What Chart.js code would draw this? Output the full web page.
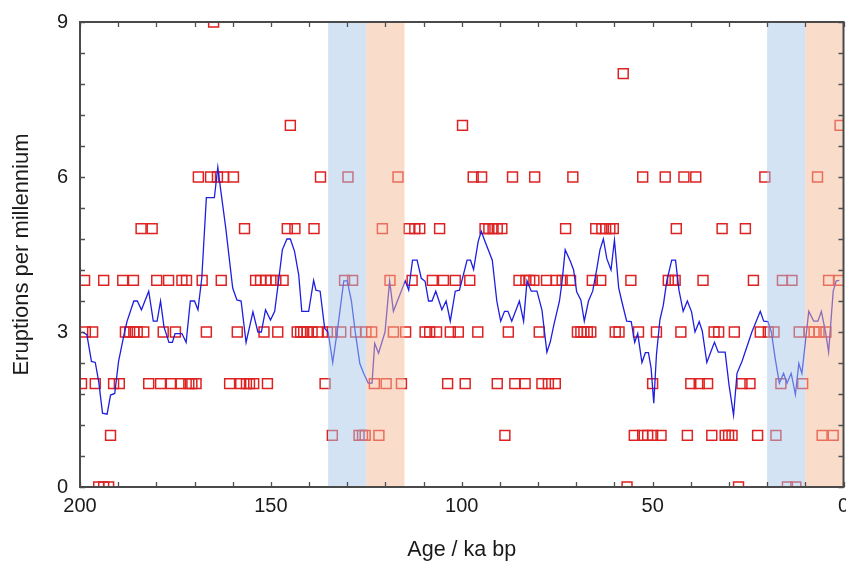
<!DOCTYPE html>
<html>
<head>
<meta charset="utf-8">
<script src="https://cdn.jsdelivr.net/npm/chart.js@4/dist/chart.umd.min.js"></script>
<style>
  html, body { margin: 0; padding: 0; background: #fff; }
  #wrap { width: 846px; height: 565px; position: relative; }
</style>
</head>
<body>
<div id="wrap"><canvas id="c" width="846" height="565"></canvas></div>
<script>
// ---- Data (age in ka bp) ----
const agesCount9 = [165.0];
const agesCount8 = [57.7];
const agesCount7 = [144.9, 99.8, 0.9];
const agesCount6 = [169.0, 165.8, 164.0, 162.4, 159.8, 137.0, 129.8, 116.7, 97.0, 94.8, 86.7, 80.9, 70.9, 52.6, 46.7, 41.8, 38.7, 20.6, 6.8];
const agesCount5 = [184.0, 181.1, 156.9, 145.7, 143.7, 138.7, 120.8, 113.8, 112.3, 111.0, 105.8, 93.9, 92.9, 91.8, 90.7, 89.5, 72.8, 64.9, 63.3, 62.3, 61.2, 60.3, 43.8, 31.8, 25.7];
const agesCount4 = [198.8, 193.8, 188.8, 186.0, 179.9, 176.8, 173.3, 172.1, 168.0, 163.0, 154.0, 152.7, 151.3, 150.0, 148.7, 146.8, 130.7, 128.6, 118.8, 113.0, 107.7, 104.8, 101.7, 97.9, 85.0, 83.2, 82.2, 81.1, 77.8, 75.3, 73.7, 71.5, 65.8, 63.6, 55.7, 45.9, 44.8, 44.1, 36.8, 23.6, 16.0, 13.5, 3.9, 1.2];
const agesCount3 = [198.6, 196.7, 188.1, 187.0, 185.9, 185.0, 183.3, 178.2, 175.0, 166.9, 158.8, 151.8, 148.2, 143.1, 142.2, 141.4, 140.5, 139.2, 137.6, 135.2, 133.9, 131.7, 127.8, 125.1, 123.6, 117.9, 114.7, 109.6, 108.4, 106.6, 103.0, 100.9, 95.8, 87.8, 79.7, 69.7, 68.8, 68.0, 67.1, 66.2, 59.8, 58.8, 53.7, 49.0, 42.6, 33.9, 32.7, 28.6, 21.8, 19.7, 18.2, 11.6, 9.0, 7.7, 6.4, 4.6];
const agesCount2 = [199.6, 196.0, 191.2, 189.7, 182.0, 178.9, 176.1, 173.7, 171.5, 170.7, 169.6, 160.8, 157.9, 156.4, 155.6, 154.5, 150.9, 135.8, 122.9, 119.8, 115.8, 103.7, 99.1, 90.7, 86.1, 83.4, 79.0, 77.3, 75.5, 50.0, 40.0, 37.8, 35.6, 26.6, 24.5, 16.4, 10.7];
const agesCount1 = [192.0, 133.9, 126.9, 126.0, 125.3, 121.7, 88.7, 54.8, 52.6, 51.3, 50.0, 47.8, 40.9, 34.5, 31.0, 30.1, 29.2, 22.5, 17.7, 5.6, 2.7];
const agesCount0 = [195.1, 193.8, 192.5, 56.7, 27.5, 14.7, 12.5];

// running mean of eruption rate
const meanAges = [199.4, 198.2, 197.0, 196.0, 195.1, 194.1, 192.9, 192.0, 190.9, 189.9, 188.5, 187.7, 185.9, 185.0, 183.9, 182.0, 180.8, 179.8, 178.9, 178.0, 176.7, 175.8, 175.1, 173.3, 172.2, 171.1, 170.0, 169.1, 168.1, 166.9, 164.8, 163.9, 163.2, 161.8, 160.0, 158.9, 157.8, 156.5, 154.7, 153.4, 152.5,
  151.4, 150.1, 149.0, 147.9, 147.0, 145.8, 144.9, 143.8, 142.7, 141.9, 140.1, 138.8, 138.2, 137.1, 135.9, 135.0, 133.8, 132.4, 130.9, 130.0, 128.9, 127.9, 126.7, 125.7, 124.5, 123.5, 122.8, 121.8, 120.1, 118.9, 117.9, 114.8, 113.9, 112.9, 111.7, 110.6, 109.6, 108.7, 107.8, 106.8, 105.2, 104.1, 103.0, 101.7,
  100.6, 98.6, 97.7, 96.9, 95.7, 94.9, 93.9, 92.0, 90.8, 89.8, 88.8, 87.9, 86.9, 84.9, 83.8, 82.9, 81.8, 80.3, 79.0, 77.7, 76.8, 75.9, 74.4, 73.7, 72.9, 71.5, 70.7, 69.9, 68.8, 67.9, 66.8, 65.7, 64.6, 63.8, 62.9, 62.0, 60.9, 60.0, 59.6, 58.9, 58.1, 56.8, 55.6, 54.7, 53.9, 52.8, 51.9, 51.1, 50.4, 49.7,
  49.0, 48.1, 47.2, 46.3, 45.0, 44.0, 43.1, 42.0, 40.9, 39.8, 38.9, 37.8, 37.0, 35.8, 34.8, 33.8, 32.8, 31.0, 30.0, 28.8, 27.9, 26.6, 24.0, 21.8, 20.9, 19.8, 18.9, 17.9, 16.8, 15.7, 14.8, 13.7, 12.6, 11.7, 10.9, 9.1, 7.8, 6.7, 5.8, 4.7, 3.9, 2.7, 1.9, 1.1];
const meanRates = [3.0, 2.95, 2.43, 2.41, 2.04, 1.43, 1.41, 1.78, 1.81, 2.43, 2.94, 3.2, 3.6, 3.6, 3.43, 3.79, 3.21, 3.21, 3.6, 3.1, 2.8, 2.8, 2.97, 2.97, 2.8, 3.6, 3.6, 3.43, 4.04, 5.6, 5.6, 6.19, 5.78, 5.0, 3.85, 3.62, 3.6, 2.8, 3.39, 3.0, 3.0,
  3.43, 3.23, 3.4, 4.04, 4.59, 4.8, 4.8, 4.56, 4.1, 3.4, 3.4, 4.0, 3.81, 3.79, 3.07, 3.0, 2.41, 3.13, 3.99, 3.99, 3.6, 3.0, 2.39, 2.2, 2.01, 2.01, 2.78, 2.59, 3.0, 3.99, 3.4, 3.99, 3.81, 4.39, 4.39, 4.04, 3.98, 3.6, 3.6, 3.79, 3.43, 3.6, 3.21, 3.79,
  3.81, 4.39, 4.39, 4.21, 4.75, 4.95, 4.75, 4.39, 3.59, 3.21, 3.4, 3.4, 3.21, 3.6, 3.21, 3.99, 3.79, 3.79, 3.43, 2.61, 2.81, 3.13, 3.6, 3.99, 4.59, 4.36, 4.2, 3.78, 3.62, 3.21, 3.6, 3.79, 4.23, 4.59, 4.8, 4.42, 4.2, 4.78, 4.45, 3.86, 3.6, 3.21, 3.2, 2.8, 2.97, 2.41, 2.6, 2.6, 2.3, 1.62,
  2.56, 3.23, 3.52, 3.98, 4.39, 4.39, 3.81, 3.4, 3.6, 3.39, 3.0, 3.2, 3.02, 2.41, 2.61, 2.8, 2.61, 2.61, 1.98, 1.39, 2.2, 2.43, 3.0, 3.4, 3.21, 3.2, 3.0, 2.49, 2.01, 2.2, 2.01, 2.2, 1.79, 2.39, 2.2, 3.4, 3.21, 3.21, 3.4, 3.0, 2.61, 3.79, 3.99, 4.0];

// climate intervals (ka bp)
const coolBands = [[135, 125], [20, 10]];
const warmBands = [[125, 115], [10, 0]];

const xTicks = [200, 150, 100, 50, 0];
const yTicks = [0, 3, 6, 9];

// ---- build datasets ----
const byCount = [agesCount0, agesCount1, agesCount2, agesCount3, agesCount4, agesCount5, agesCount6, agesCount7, agesCount8, agesCount9];
const scatterPts = [];
byCount.forEach((ages, n) => ages.forEach(a => scatterPts.push({ x: a, y: n })));
const linePts = meanAges.map((a, i) => ({ x: a, y: meanRates[i] }));

const FONT = "'Liberation Sans', Arial, sans-serif";
const PLOT_BOX = { left: 80, top: 22, rightGap: 2.5, axisHeight: 78 };

// pin the plot box so that the frame matches the reference
const geomPlugin = {
  id: 'geom',
  afterLayout(chart) {
    const a = chart.chartArea, { x, y } = chart.scales;
    a.left = PLOT_BOX.left; a.top = PLOT_BOX.top;
    a.right = chart.width - PLOT_BOX.rightGap; a.bottom = chart.height - PLOT_BOX.axisHeight;
    a.width = a.right - a.left; a.height = a.bottom - a.top;
    x.left = a.left; x.right = a.right; x.width = a.width;
    x.top = a.bottom; x.bottom = chart.height; x.height = PLOT_BOX.axisHeight;
    y.top = a.top; y.bottom = a.bottom; y.height = a.height;
    y.left = 0; y.right = a.left; y.width = a.left;
    x.configure(); y.configure();
  }
};

const bandPlugin = {
  id: 'bands',
  afterDatasetsDraw(chart) {
    const { ctx, chartArea: a, scales: { x } } = chart;
    ctx.save();
    const fill = (bands, color) => {
      ctx.fillStyle = color;
      bands.forEach(([from, to]) => {
        const p1 = x.getPixelForValue(from), p2 = x.getPixelForValue(to);
        ctx.fillRect(Math.min(p1, p2), a.top, Math.abs(p2 - p1), a.bottom - a.top);
      });
    };
    fill(coolBands, 'rgba(168,200,232,0.5)');
    fill(warmBands, 'rgba(245,186,152,0.5)');
    ctx.restore();
  }
};

const framePlugin = {
  id: 'frame',
  afterDraw(chart) {
    const { ctx, chartArea: a, scales: { x, y } } = chart;
    ctx.save();
    ctx.strokeStyle = '#505050';
    ctx.lineWidth = 1.3;
    ctx.beginPath();
    for (let v = 0; v <= 200; v += 10) {
      const px = Math.round(x.getPixelForValue(v)) + 0.5;
      ctx.moveTo(px, a.bottom); ctx.lineTo(px, a.bottom - 5);
      ctx.moveTo(px, a.top); ctx.lineTo(px, a.top + 5);
    }
    for (let i = 0; i <= 15; i++) {
      const py = Math.round(y.getPixelForValue(i * 0.6)) + 0.5;
      ctx.moveTo(a.left, py); ctx.lineTo(a.left + 5, py);
      ctx.moveTo(a.right, py); ctx.lineTo(a.right - 5, py);
    }
    ctx.stroke();
    ctx.lineWidth = 2;
    ctx.strokeStyle = '#4a4a4a';
    ctx.strokeRect(a.left, a.top, a.right - a.left, a.bottom - a.top);
    // x tick labels, placed through the x scale
    ctx.fillStyle = '#1a1a1a';
    ctx.font = '20px ' + FONT;
    ctx.textAlign = 'center';
    ctx.textBaseline = 'top';
    xTicks.forEach(v => ctx.fillText(String(v), x.getPixelForValue(v), a.bottom + 9));
    ctx.restore();
  }
};

new Chart(document.getElementById('c'), {
  data: {
    datasets: [
      {
        type: 'scatter',
        label: 'Eruptions',
        data: scatterPts,
        pointStyle: 'rect',
        pointRadius: 7,
        pointBorderWidth: 1.5,
        pointBackgroundColor: 'rgba(0,0,0,0)',
        pointBorderColor: 'rgb(222,34,34)',
        clip: 0,
        order: 2
      },
      {
        type: 'line',
        label: 'Running mean',
        data: linePts,
        borderColor: 'rgb(30,30,225)',
        borderWidth: 1.3,
        pointRadius: 0,
        tension: 0,
        fill: false,
        clip: 0,
        order: 1
      }
    ]
  },
  options: {
    responsive: false,
    animation: false,
    devicePixelRatio: 1,
    layout: { padding: { top: 22, right: 2.5, left: 0, bottom: 0 } },
    plugins: { legend: { display: false }, tooltip: { enabled: false } },
    scales: {
      x: {
        type: 'linear',
        reverse: true,
        min: 0, max: 200,
        afterFit(s) { s.height = 78; },
        grid: { display: false, drawTicks: false },
        border: { display: false },
        ticks: { display: false },
        title: { display: true, text: 'Age / ka bp', color: '#1a1a1a', font: { family: FONT, size: 21.5 }, padding: { top: 0, bottom: 2 } }
      },
      y: {
        min: 0, max: 9,
        afterFit(s) { s.width = 80; },
        afterBuildTicks(s) { s.ticks = yTicks.map(v => ({ value: v })); },
        grid: { display: false, drawTicks: false },
        border: { display: false },
        ticks: { padding: 12, color: '#1a1a1a', font: { family: FONT, size: 20 } },
        title: { display: true, text: 'Eruptions per millennium', color: '#1a1a1a', font: { family: FONT, size: 22 }, padding: { top: 9, bottom: 0 } }
      }
    }
  },
  plugins: [geomPlugin, bandPlugin, framePlugin]
});
</script>
</body>
</html>
